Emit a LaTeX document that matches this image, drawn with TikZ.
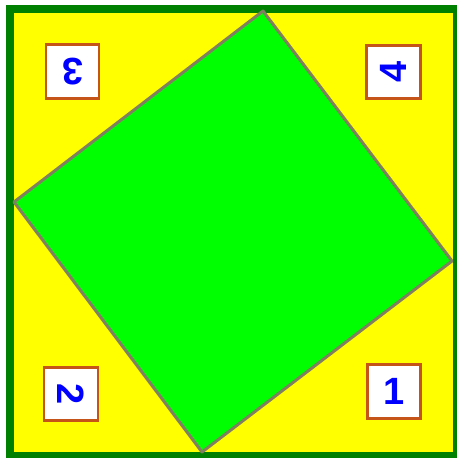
\documentclass[tikz,border=0pt]{standalone}
\usepackage{fontspec}
\setmainfont{Liberation Sans}
\definecolor{outergreen}{RGB}{0,128,0}
\definecolor{sqgreen}{RGB}{0,255,0}
\definecolor{edgegray}{RGB}{128,128,96}
\definecolor{boxbrown}{RGB}{196,84,24}
\definecolor{numblue}{RGB}{0,0,255}
\definecolor{bgyellow}{RGB}{255,255,0}
\tikzset{
  numbox/.style={draw=boxbrown, line width=2.5pt, fill=white, minimum width=53pt, minimum height=54pt,
    inner sep=0pt, text=numblue, font=\fontsize{38}{38}\selectfont\bfseries},
}
\begin{document}
\begin{tikzpicture}[x=1pt,y=-1pt]
\useasboundingbox (0,0) rectangle (457,458);
\begin{scope}
\clip (0,0) rectangle (457,458);
\draw[outergreen, line width=8pt, fill=bgyellow] (10,8.5) rectangle (457,456);
\end{scope}
\coordinate (t) at (263,11);
\coordinate (r) at (452,261);
\coordinate (b) at (202,452);
\coordinate (l) at (14,202);
\draw[edgegray, line width=3pt, fill=sqgreen, line join=round] (t) -- (r) -- (b) -- (l) -- cycle;
\node[numbox] (n1) at (394,391.5) {1};
\node[numbox, rotate=-90] (n2) at (71,394) {2};
\node[numbox, rotate=180] (n3) at (72.5,71.5) {3};
\node[numbox, rotate=90] (n4) at (393.5,72) {4};
\end{tikzpicture}
\end{document}
